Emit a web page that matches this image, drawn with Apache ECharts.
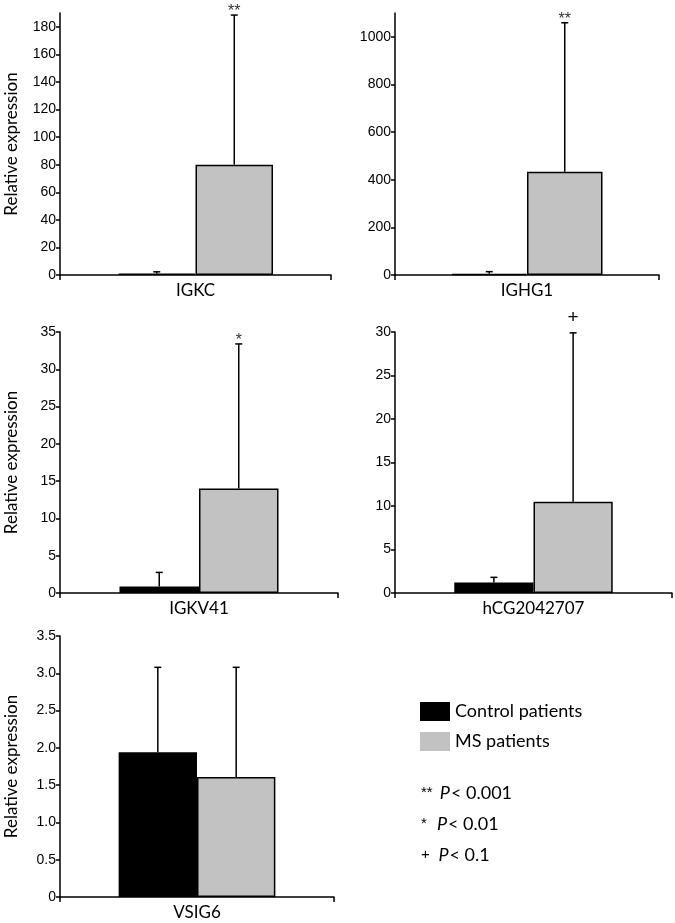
<!DOCTYPE html>
<html>
<head>
<meta charset="utf-8">
<script src="https://cdn.jsdelivr.net/npm/echarts@6/dist/echarts.min.js"></script>
<style>html,body{margin:0;padding:0;background:#fff}#c{width:675px;height:923px}</style>
</head>
<body>
<div id="c"></div>
<script>
// ---- data ----
const categories = ['IGKC', 'IGHG1', 'IGKV41', 'hCG2042707', 'VSIG6'];
const controlMean = [1.0, 5, 0.88, 1.22, 1.94];
const controlErrTop = [2.3, 14, 2.76, 1.8, 3.08];
const msMean = [80, 433, 14, 10.5, 1.61];
const msErrTop = [188.5, 1059, 33.4, 29.9, 3.08];
const sigMarks = ['**', '**', '*', '+', ''];
const yMax = [190, 1100, 35, 30, 3.5];
const yTicks = [
  [0, 20, 40, 60, 80, 100, 120, 140, 160, 180],
  [0, 200, 400, 600, 800, 1000],
  [0, 5, 10, 15, 20, 25, 30, 35],
  [0, 5, 10, 15, 20, 25, 30],
  [0, 0.5, 1.0, 1.5, 2.0, 2.5, 3.0, 3.5]
];
const seriesNames = ['Control patients', 'MS patients'];
const pLegend = [['**', '0.001'], ['*', '0.01'], ['+', '0.1']];

// ---- layout ----
const grids = [
  {left: 60, top: 13, width: 271, height: 262},
  {left: 395, top: 13, width: 264, height: 262},
  {left: 60, top: 332, width: 278, height: 261},
  {left: 395, top: 332, width: 277, height: 261},
  {left: 60, top: 636, width: 274, height: 261}
];
const showName = [true, false, true, false, true];
const BAR_FRAC = 0.286;
const labelFont = 'Lato, "Open Sans", sans-serif';
const tickFont = '"Liberation Sans", Arial, sans-serif';

const xAxes = [], yAxes = [], series = [];
categories.forEach((cat, i) => {
  xAxes.push({
    gridIndex: i, type: 'category', data: [cat],
    axisLine: {lineStyle: {color: '#000', width: 1.5}},
    axisTick: {show: true, length: 5, lineStyle: {color: '#000', width: 1.5}},
    axisLabel: {color: '#000', fontSize: 17, fontFamily: labelFont, margin: 7}
  });
  yAxes.push({
    gridIndex: i, type: 'value', min: 0, max: yMax[i],
    name: showName[i] ? 'Relative expression' : '',
    nameLocation: 'middle', nameGap: 40,
    nameTextStyle: {color: '#000', fontSize: 17, fontFamily: labelFont},
    splitLine: {show: false},
    axisLine: {show: true, lineStyle: {color: '#000', width: 1.5}},
    axisTick: {show: true, length: 4, customValues: yTicks[i], lineStyle: {color: '#000', width: 1.5}},
    axisLabel: {
      customValues: yTicks[i], color: '#000', fontSize: 14, fontFamily: tickFont, margin: 4,
      formatter: v => (i === 4 && v !== 0) ? v.toFixed(1) : String(v)
    }
  });
  series.push({
    name: seriesNames[0], type: 'bar', xAxisIndex: i, yAxisIndex: i,
    data: [controlMean[i]], barWidth: (BAR_FRAC * 100) + '%', barGap: '0%',
    itemStyle: {color: '#000', borderColor: '#000', borderWidth: 1.5}
  });
  series.push({
    name: seriesNames[1], type: 'bar', xAxisIndex: i, yAxisIndex: i,
    data: [msMean[i]], barWidth: (BAR_FRAC * 100) + '%', barGap: '0%',
    itemStyle: {color: '#c2c2c2', borderColor: '#000', borderWidth: 1.5}
  });
  series.push({
    type: 'custom', xAxisIndex: i, yAxisIndex: i, z: 5, silent: true,
    data: [[0, controlMean[i], controlErrTop[i], -1], [0, msMean[i], msErrTop[i], 1]],
    renderItem: (params, api) => {
      const cx = api.coord([api.value(0), 0])[0];
      const band = api.size([1, 0])[0];
      const side = api.value(3);
      const x = cx + side * band * BAR_FRAC / 2;
      const y1 = api.coord([0, api.value(1)])[1];
      const y2 = api.coord([0, api.value(2)])[1];
      const mark = params.dataIndex === 1 ? sigMarks[i] : '';
      const children = [
        {type: 'line', shape: {x1: x, y1: y1, x2: x, y2: y2}, style: {stroke: '#000', lineWidth: 1.5}},
        {type: 'line', shape: {x1: x - 3.5, y1: y2, x2: x + 3.5, y2: y2}, style: {stroke: '#000', lineWidth: 1.5}}
      ];
      if (mark) {
        const isPlus = mark === '+';
        children.push({
          type: 'text',
          style: {
            text: mark, x: x, y: y2 - (isPlus ? 15 : 3),
            align: 'center', verticalAlign: 'middle',
            fill: isPlus ? '#000' : '#333', fontSize: isPlus ? 19 : 16, fontFamily: tickFont
          }
        });
      }
      return {type: 'group', children: children};
    }
  });
});

const graphics = pLegend.map((p, k) => ({
  type: 'text', left: 421, top: 784 + k * 31,
  style: {
    text: '{s|' + p[0] + '}{i|P}{n|< ' + p[1] + '}',
    rich: {
      s: {width: 26, align: 'center', fontSize: 15, fontFamily: tickFont, fill: '#000'},
      i: {fontStyle: 'italic', fontSize: 18, fontFamily: labelFont, fill: '#000'},
      n: {fontSize: 18, fontFamily: labelFont, fill: '#000', padding: [0, 0, 0, 1]}
    }
  }
}));

const chart = echarts.init(document.getElementById('c'), null, {renderer: 'canvas'});
chart.setOption({
  animation: false,
  backgroundColor: '#fff',
  grid: grids,
  xAxis: xAxes,
  yAxis: yAxes,
  series: series,
  legend: {
    data: seriesNames, orient: 'vertical', left: 415, top: 697,
    itemWidth: 30, itemHeight: 19, itemGap: 11, icon: 'rect',
    itemStyle: {borderWidth: 0},
    textStyle: {color: '#000', fontSize: 18, fontFamily: labelFont}
  },
  graphic: graphics
});
</script>
</body>
</html>
